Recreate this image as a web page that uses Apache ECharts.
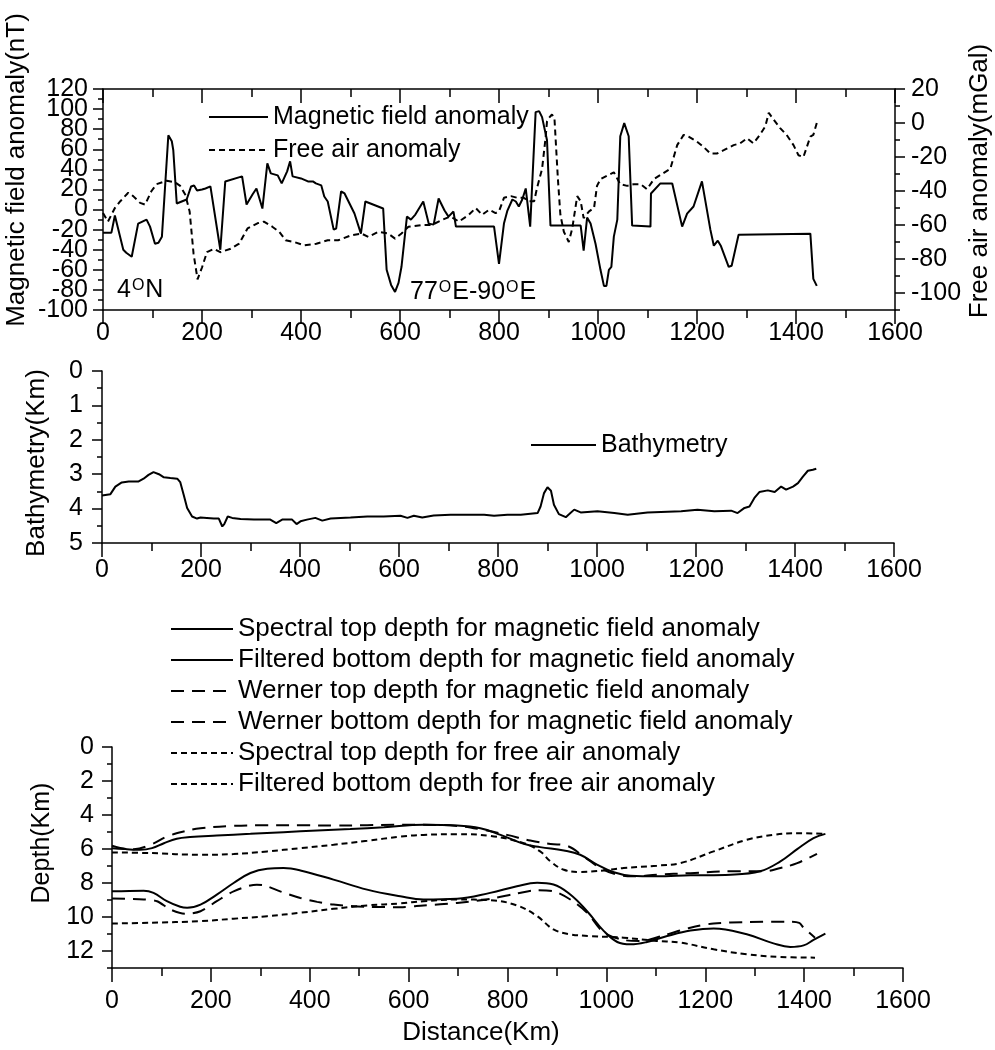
<!DOCTYPE html>
<html><head><meta charset="utf-8">
<script src="https://cdn.jsdelivr.net/npm/echarts@6/dist/echarts.min.js"></script>
<style>html,body{margin:0;padding:0;background:#fff}#c{width:995px;height:1050px}</style>
</head><body><div id="c"></div>
<script>
// ---- Data (distance km, value) ----
const magneticAnomaly = [[0,-23],[17,-23],[24,-6],[41,-40],[47,-43],[58,-47],[62,-48],[71,-14],[88,-10],[95,-17],[105,-34],[112,-33],[119,-27],[132,74],[139,68],[142,59],[149,6],[169,10],[178,23],[184,24],[190,19],[200,20],[207,21],[217,23],[237,-40],[247,28],[281,33],[290,5],[302,15],[310,21],[322,1],[332,46],[339,36],[353,34],[361,26],[372,38],[378,48],[383,33],[400,31],[414,28],[424,28],[430,26],[441,24],[447,13],[454,8],[466,-20],[471,-19],[481,18],[488,16],[498,6],[508,-4],[521,-24],[530,8],[566,1],[573,-60],[582,-75],[590,-82],[597,-73],[603,-57],[614,-7],[622,-10],[631,-5],[647,8],[658,-14],[668,-15],[678,11],[690,-1],[698,-7],[708,-2],[713,-17],[790,-17],[800,-54],[810,-14],[817,-1],[827,10],[834,8],[840,3],[847,10],[854,21],[863,-17],[867,-16],[874,97],[881,98],[887,92],[897,69],[904,-16],[965,-16],[971,-41],[978,-8],[985,-14],[995,-34],[1005,-60],[1012,-76],[1017,-76],[1022,-60],[1027,-57],[1032,-27],[1039,-10],[1045,73],[1053,86],[1062,73],[1069,-16],[1106,-17],[1107,16],[1126,26],[1150,26],[1170,-17],[1180,-4],[1193,3],[1210,28],[1227,-20],[1234,-36],[1242,-31],[1248,-36],[1264,-57],[1270,-56],[1284,-25],[1429,-24],[1435,-69],[1442,-76]];
const freeAirAnomaly = [[0,-53],[10,-58],[24,-50],[35,-46],[51,-41],[61,-43],[75,-47],[85,-48],[98,-40],[108,-36],[129,-34],[146,-35],[156,-37],[166,-42],[175,-52],[183,-77],[191,-92],[200,-85],[210,-76],[224,-74],[237,-76],[258,-74],[275,-71],[292,-62],[312,-59],[325,-58],[342,-61],[356,-64],[369,-69],[386,-70],[407,-72],[431,-71],[454,-69],[475,-69],[502,-66],[522,-65],[536,-67],[556,-64],[576,-65],[590,-68],[603,-65],[617,-61],[644,-60],[664,-60],[685,-57],[702,-55],[719,-58],[739,-54],[753,-50],[766,-54],[780,-51],[793,-53],[800,-52],[810,-44],[824,-43],[837,-44],[850,-44],[860,-46],[871,-46],[877,-38],[887,-27],[894,-9],[897,1],[901,3],[907,5],[912,3],[919,-33],[924,-54],[931,-64],[941,-70],[948,-62],[958,-43],[965,-46],[971,-56],[982,-52],[992,-50],[998,-37],[1005,-33],[1018,-31],[1032,-29],[1045,-36],[1059,-37],[1072,-36],[1086,-36],[1099,-39],[1113,-33],[1129,-30],[1146,-27],[1160,-13],[1173,-7],[1183,-8],[1200,-11],[1213,-14],[1227,-18],[1240,-18],[1254,-16],[1274,-13],[1287,-12],[1301,-9],[1314,-12],[1327,-7],[1338,-2],[1345,6],[1355,2],[1368,-3],[1381,-7],[1395,-13],[1405,-19],[1415,-20],[1422,-14],[1429,-8],[1435,-7],[1442,0]];
const bathymetry = [[0,3.62],[17,3.58],[27,3.36],[40,3.24],[54,3.21],[74,3.21],[84,3.13],[94,3.02],[104,2.94],[115,3.0],[125,3.09],[138,3.11],[152,3.13],[158,3.23],[165,3.6],[172,3.98],[182,4.23],[192,4.29],[199,4.26],[212,4.27],[226,4.29],[236,4.29],[243,4.52],[247,4.45],[254,4.23],[263,4.27],[280,4.3],[307,4.32],[340,4.32],[352,4.42],[364,4.32],[384,4.32],[393,4.45],[401,4.37],[414,4.32],[431,4.27],[445,4.35],[462,4.29],[502,4.26],[536,4.23],[569,4.23],[603,4.21],[617,4.27],[630,4.21],[647,4.26],[670,4.2],[704,4.18],[738,4.18],[772,4.18],[792,4.21],[819,4.18],[846,4.18],[880,4.13],[886,3.94],[893,3.55],[900,3.38],[907,3.48],[913,3.89],[923,4.16],[937,4.25],[944,4.16],[954,4.03],[967,4.11],[1001,4.08],[1035,4.13],[1062,4.18],[1102,4.11],[1170,4.08],[1203,4.03],[1237,4.08],[1271,4.06],[1284,4.13],[1298,3.98],[1308,3.94],[1318,3.69],[1328,3.52],[1345,3.47],[1359,3.52],[1372,3.36],[1382,3.45],[1396,3.36],[1406,3.26],[1416,3.07],[1426,2.9],[1436,2.87],[1443,2.84]];
const spectralTopMag = [[0,5.81],[30,6.01],[57,6.05],[81,5.95],[105,5.66],[131,5.40],[158,5.30],[212,5.21],[280,5.11],[347,5.01],[415,4.91],[482,4.82],[550,4.72],[630,4.58],[698,4.62],[745,4.78],[786,5.17],[833,5.7],[866,5.89],[914,6.09],[947,6.34],[981,6.92],[1015,7.37],[1049,7.57],[1102,7.61],[1170,7.55],[1251,7.51],[1311,7.31],[1352,6.73],[1386,6.01],[1419,5.36],[1443,5.11]];
const filteredBottomMag = [[0,8.49],[64,8.45],[84,8.58],[111,9.07],[138,9.40],[152,9.46],[179,9.27],[212,8.68],[246,8.0],[280,7.41],[314,7.16],[347,7.12],[381,7.26],[448,7.80],[516,8.39],[583,8.78],[630,8.97],[698,8.93],[765,8.58],[819,8.19],[860,7.99],[893,8.09],[927,8.68],[961,9.66],[995,10.83],[1022,11.47],[1049,11.61],[1082,11.47],[1123,11.12],[1170,10.8],[1217,10.67],[1284,11.02],[1338,11.55],[1372,11.76],[1399,11.67],[1419,11.35],[1443,10.98]];
const wernerTopMag = [[0,5.95],[44,6.01],[78,5.75],[111,5.27],[145,4.97],[179,4.78],[246,4.64],[314,4.60],[381,4.60],[448,4.62],[516,4.60],[570,4.58],[630,4.58],[698,4.64],[752,4.88],[799,5.17],[846,5.5],[887,5.7],[920,5.81],[954,6.44],[988,7.12],[1022,7.51],[1056,7.61],[1102,7.51],[1170,7.42],[1251,7.31],[1318,7.31],[1352,7.12],[1386,6.83],[1426,6.28]];
const wernerBottomMag = [[0,8.91],[64,8.97],[91,9.07],[118,9.56],[148,9.81],[179,9.66],[212,9.07],[246,8.49],[293,8.1],[307,8.13],[340,8.49],[381,8.88],[415,9.11],[448,9.27],[516,9.40],[583,9.42],[630,9.32],[698,9.17],[765,8.93],[819,8.62],[860,8.43],[893,8.49],[927,8.97],[961,9.75],[995,10.92],[1035,11.35],[1069,11.41],[1116,11.08],[1170,10.63],[1217,10.38],[1284,10.3],[1372,10.28],[1390,10.35],[1399,10.63],[1422,11.22]];
const spectralTopFree = [[0,6.2],[78,6.24],[179,6.34],[246,6.3],[314,6.14],[381,5.95],[448,5.75],[516,5.52],[583,5.27],[630,5.17],[698,5.13],[765,5.23],[833,5.66],[866,6.14],[887,6.73],[914,7.22],[947,7.35],[995,7.26],[1035,7.12],[1102,6.98],[1150,6.83],[1217,6.14],[1284,5.46],[1338,5.17],[1386,5.07],[1440,5.11]];
const filteredBottomFree = [[0,10.38],[78,10.34],[179,10.24],[246,10.1],[314,9.95],[381,9.75],[448,9.52],[516,9.32],[583,9.2],[630,9.07],[698,8.97],[765,9.01],[819,9.32],[860,9.95],[893,10.73],[927,11.02],[968,11.12],[1035,11.22],[1102,11.41],[1150,11.51],[1217,11.9],[1284,12.19],[1352,12.35],[1422,12.39]];
// tick labels
const magLabelsA = [-100,-60,-20,20,60,100];
const magLabelsB = [-80,-40,0,40,80,120];
const rightAxisTicks = [-100,-80,-60,-40,-20,0,20];
const depthTicks = [0,2,4,6,8,10,12];

const FONT = '"Liberation Sans", Arial, Helvetica, sans-serif';
const BLACK = '#000';
const chart = echarts.init(document.getElementById('c'), null, {renderer: 'canvas'});

const line = {show: true, onZero: false, lineStyle: {color: BLACK, width: 1.5}};
const lab = (m, lh) => ({show: true, color: BLACK, fontSize: 25, fontFamily: FONT, margin: m,
  lineHeight: lh || 29, showMinLabel: true, showMaxLabel: true, hideOverlap: false, formatter: v => String(v)});
function xMajor(grid, pos, margin) {
  return {type: 'value', gridIndex: grid, position: pos, min: 0, max: 1600, interval: 200,
    axisLine: line, splitLine: {show: false},
    axisTick: {show: true, length: 14, inside: pos === 'top', lineStyle: {color: BLACK, width: 1.5}},
    axisLabel: pos === 'top' ? {show: false} : lab(margin)};
}
function xMinor(grid, pos) {
  return {type: 'value', gridIndex: grid, position: pos, min: 0, max: 1600, interval: 100,
    axisLine: {show: false, onZero: false}, splitLine: {show: false}, axisLabel: {show: false},
    axisTick: {show: true, length: 8, inside: pos === 'top', lineStyle: {color: BLACK, width: 1.5}}};
}
function yMinor(grid, pos, min, max, interval, inverse) {
  return {type: 'value', gridIndex: grid, position: pos, min: min, max: max, interval: interval, inverse: !!inverse,
    axisLine: {show: false, onZero: false}, splitLine: {show: false}, axisLabel: {show: false},
    axisTick: {show: true, length: 5, lineStyle: {color: BLACK, width: 1.5}}};
}
function yLabels(grid, pos, min, max, interval, values, margin) {
  return {type: 'value', gridIndex: grid, position: pos, min: min, max: max, interval: interval,
    axisLine: {show: false, onZero: false}, splitLine: {show: false}, axisTick: {show: false},
    axisLabel: Object.assign(lab(margin, 20), {customValues: values})};
}

const xAxis = [
  xMajor(0, 'bottom', 9), xMinor(0, 'bottom'), xMajor(0, 'top'), xMinor(0, 'top'),
  xMajor(1, 'bottom', 13), xMinor(1, 'bottom'),
  xMajor(2, 'bottom', 19), xMinor(2, 'bottom')
];
const yAxis = [
  {type: 'value', gridIndex: 0, position: 'left', min: -100, max: 120, interval: 20,
   axisLine: line, splitLine: {show: false},
   axisTick: {show: true, length: 10, lineStyle: {color: BLACK, width: 1.5}},
   axisLabel: Object.assign(lab(15, 20), {customValues: magLabelsA})},
  yMinor(0, 'left', -100, 120, 10),
  {type: 'value', gridIndex: 0, position: 'right', min: -110, max: 20, interval: 10,
   axisLine: line, splitLine: {show: false},
   axisTick: {show: true, length: 10, customValues: rightAxisTicks, lineStyle: {color: BLACK, width: 1.5}},
   axisLabel: Object.assign(lab(16, 20), {customValues: rightAxisTicks, formatter: v => (v % 20 === 0 ? String(v) : '')})},
  yMinor(0, 'right', -110, 20, 10),
  {type: 'value', gridIndex: 1, position: 'left', min: 0, max: 5, interval: 1, inverse: true,
   axisLine: line, splitLine: {show: false},
   axisTick: {show: true, length: 10, lineStyle: {color: BLACK, width: 1.5}}, axisLabel: lab(19, 20)},
  yMinor(1, 'left', 0, 5, 0.5, true),
  {type: 'value', gridIndex: 2, position: 'left', min: 0, max: 13, interval: 1, inverse: true,
   axisLine: line, splitLine: {show: false},
   axisTick: {show: true, length: 10, customValues: depthTicks, lineStyle: {color: BLACK, width: 1.5}},
   axisLabel: Object.assign(lab(18, 20), {customValues: depthTicks, formatter: v => (v % 2 === 0 && v <= 12 ? String(v) : '')})},
  yMinor(2, 'left', 0, 13, 1, true),
  yLabels(0, 'left', -100, 120, 20, magLabelsB, 15)
];

function ser(name, data, xi, yi, type, smooth) {
  return {name: name, type: 'line', data: data, xAxisIndex: xi, yAxisIndex: yi, symbol: 'none',
    smooth: smooth || false, silent: true,
    lineStyle: {color: BLACK, width: 2, type: type}, itemStyle: {color: BLACK}};
}
const LONG = [13, 8], SHORT = [6, 4];
const series = [
  ser('Magnetic field anomaly', magneticAnomaly, 0, 0, 'solid'),
  ser('Free air anomaly', freeAirAnomaly, 0, 2, SHORT),
  ser('Bathymetry', bathymetry, 4, 4, 'solid'),
  ser('Spectral top depth for magnetic field anomaly', spectralTopMag, 6, 6, 'solid', 0.4),
  ser('Filtered bottom depth for magnetic field anomaly', filteredBottomMag, 6, 6, 'solid', 0.4),
  ser('Werner top depth for magnetic field anomaly', wernerTopMag, 6, 6, LONG, 0.4),
  ser('Werner bottom depth for magnetic field anomaly', wernerBottomMag, 6, 6, LONG, 0.3),
  ser('Spectral top depth for free air anomaly', spectralTopFree, 6, 6, SHORT, 0.4),
  ser('Filtered bottom depth for free air anomaly', filteredBottomFree, 6, 6, SHORT, 0.4)
];

function legend(names, left, top, w, fs, lh, gap) {
  return {data: names, left: left, top: top, orient: 'vertical', padding: 0, itemGap: gap,
    itemWidth: w, itemHeight: 14, selectedMode: false,
    itemStyle: {color: 'rgba(0,0,0,0)', borderColor: 'rgba(0,0,0,0)', borderWidth: 0, opacity: 0},
    lineStyle: {color: BLACK, width: 2},
    textStyle: {color: BLACK, fontSize: fs, fontFamily: FONT, lineHeight: lh}};
}

function vText(text, x, y, fs) {
  return {type: 'text', x: x, y: y, rotation: Math.PI / 2, silent: true,
    style: {text: text, font: fs + 'px ' + FONT, fill: BLACK, align: 'center', verticalAlign: 'middle'}};
}
const sup = {s: {fontSize: 16, fontFamily: FONT, fill: BLACK, verticalAlign: 'top', padding: [0, 1, 0, 1]}};
function richText(text, x, y) {
  return {type: 'text', x: x, y: y, silent: true,
    style: {text: text, font: '25px ' + FONT, fill: BLACK, align: 'left', verticalAlign: 'middle', rich: sup}};
}

chart.setOption({
  animation: false,
  backgroundColor: '#fff',
  grid: [
    {left: 103, top: 89, width: 792, height: 221},
    {left: 102, top: 371, width: 792, height: 172},
    {left: 112, top: 747, width: 791, height: 221}
  ],
  xAxis: xAxis,
  yAxis: yAxis,
  legend: [
    legend(['Magnetic field anomaly', 'Free air anomaly'], 208, 102, 59, 25, 30, 3),
    legend(['Bathymetry'], 530, 430, 65, 25, 30, 3),
    legend(['Spectral top depth for magnetic field anomaly', 'Filtered bottom depth for magnetic field anomaly',
      'Werner top depth for magnetic field anomaly', 'Werner bottom depth for magnetic field anomaly',
      'Spectral top depth for free air anomaly', 'Filtered bottom depth for free air anomaly'], 170, 615, 62, 26, 28, 3)
  ],
  graphic: [
    vText('Magnetic field anomaly(nT)', 17, 170, 26),
    vText('Free air anomaly(mGal)', 980, 181, 26),
    vText('Bathymetry(Km)', 37, 463, 26),
    vText('Depth(Km)', 42, 843, 25),
    {type: 'text', x: 481, y: 1033, silent: true,
     style: {text: 'Distance(Km)', font: '26px ' + FONT, fill: BLACK, align: 'center', verticalAlign: 'middle'}},
    richText('4{s|O}N', 117, 290),
    richText('77{s|O}E-90{s|O}E', 410, 292)
  ],
  series: series
});
</script></body></html>
